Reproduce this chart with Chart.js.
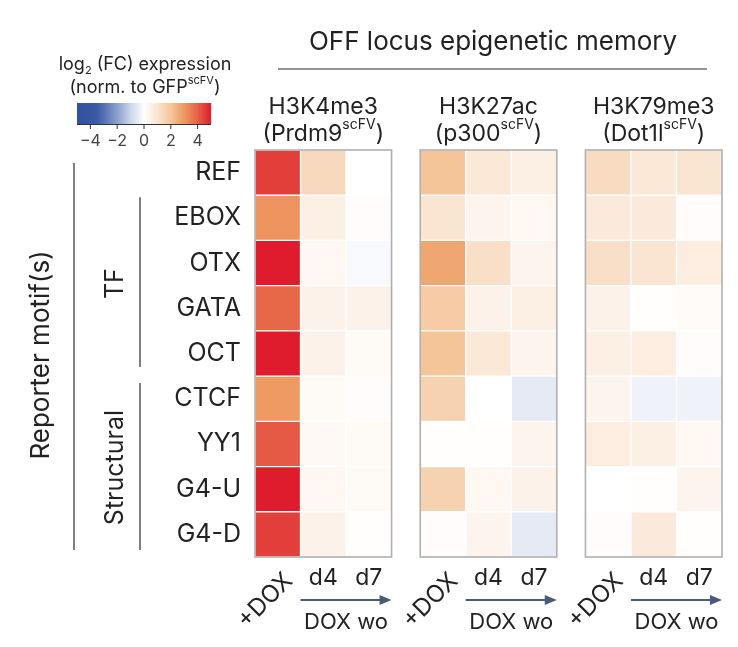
<!DOCTYPE html>
<html>
<head>
<meta charset="utf-8">
<script src="https://cdn.jsdelivr.net/npm/chart.js@4.4.1/dist/chart.umd.min.js"></script>
<style>
  html,body{margin:0;padding:0;background:#fff;}
  #wrap{position:relative;width:738px;height:647px;}
</style>
</head>
<body>
<div id="wrap"><canvas id="c"></canvas></div>
<script>
// ---------- data ----------
const rows = ['REF','EBOX','OTX','GATA','OCT','CTCF','YY1','G4-U','G4-D'];
const panelNames = ['H3K4me3','H3K27ac','H3K79me3'];
const panelEffectors = ['Prdm9','p300','Dot1l'];
const timepoints = ['+DOX','d4','d7'];
const colorbarTicks = [-4,-2,0,2,4];

// log2(FC) values, one array per panel / time point (rows order as above)
const h3k4me3_dox = [4.5, 3.1, 5.0, 3.9, 5.0, 2.95, 4.1, 5.0, 4.5];
const h3k4me3_d4  = [1.4, 0.6, 0.3, 0.5, 0.5, 0.2, 0.25, 0.3, 0.5];
const h3k4me3_d7  = [0.0, 0.1, -0.15, 0.5, 0.2, 0.1, 0.2, 0.2, 0.05];
const h3k27ac_dox = [2.0, 1.0, 2.7, 1.8, 2.0, 1.6, 0.05, 1.6, 0.1];
const h3k27ac_d4  = [0.9, 0.4, 1.2, 0.5, 0.9, 0.0, 0.05, 0.3, 0.4];
const h3k27ac_d7  = [0.6, 0.3, 0.4, 0.6, 0.4, -0.5, 0.4, 0.5, -0.5];
const h3k79me3_dox = [1.3, 0.8, 1.2, 0.5, 0.6, 0.4, 0.7, 0.0, 0.1];
const h3k79me3_d4  = [0.9, 0.8, 1.0, 0.05, 0.7, -0.3, 0.6, 0.05, 0.8];
const h3k79me3_d7  = [1.0, 0.1, 0.7, 0.15, 0.1, -0.3, 0.3, 0.4, 0.05];

const panelValues = [
  [h3k4me3_dox, h3k4me3_d4, h3k4me3_d7],
  [h3k27ac_dox, h3k27ac_d4, h3k27ac_d7],
  [h3k79me3_dox, h3k79me3_d4, h3k79me3_d7]
];

// ---------- colour map ----------
const cmapStops = [
  [-5,[49,80,160]],[-3.5,[60,90,165]],[-2,[140,160,205]],[-1,[202,213,233]],
  [0,[255,255,255]],[1,[250,229,210]],[2,[245,197,154]],[3,[238,152,95]],
  [4,[230,97,70]],[5,[222,28,46]]
];
function cmap(v){
  v = Math.max(-5, Math.min(5, v));
  for (let i=0;i<cmapStops.length-1;i++){
    const [a,ca]=cmapStops[i],[b,cb]=cmapStops[i+1];
    if (v>=a && v<=b){
      const t=(v-a)/(b-a);
      const c=ca.map((x,k)=>Math.round(x+(cb[k]-x)*t));
      return `rgb(${c[0]},${c[1]},${c[2]})`;
    }
  }
  return 'rgb(255,255,255)';
}

const GAP = 0.63;
const FONT = 'Inter, "Open Sans", sans-serif';
const TXT = '#222';

const datasets = [];
panelValues.forEach((cols,p)=>{
  cols.forEach((vals,c)=>{
    const start = p*(3+GAP)+c;
    datasets.push({
      label: panelNames[p]+' '+timepoints[c],
      data: rows.map(()=>[start,start+1]),
      backgroundColor: vals.map(cmap),
      borderColor: '#ffffff',
      borderWidth: 1,
      borderSkipped: false,
      grouped: false,
      barPercentage: 1,
      categoryPercentage: 1,
      values: vals
    });
  });
});

function drawSup(ctx, parts, cx, cy){
  let total=0;
  parts.forEach(pt=>{ctx.font=pt.size+'px '+FONT; pt.w=ctx.measureText(pt.t).width; total+=pt.w;});
  let x=cx-total/2;
  ctx.textAlign='left';
  parts.forEach(pt=>{ctx.font=pt.size+'px '+FONT; ctx.fillText(pt.t,x,cy+(pt.dy||0)); x+=pt.w;});
}

const decor = {
  id:'decor',
  afterDatasetsDraw(chart){
    const {ctx, chartArea:a, scales:{x}} = chart;
    ctx.save();
    ctx.strokeStyle='#b0b0b0'; ctx.lineWidth=1.6;
    for(let p=0;p<3;p++){
      const x0=x.getPixelForValue(p*(3+GAP)), x1=x.getPixelForValue(p*(3+GAP)+3);
      ctx.strokeRect(x0,a.top,x1-x0,a.bottom-a.top);
    }
    ctx.restore();
  },
  afterDraw(chart){
    const {ctx, chartArea:a, scales:{x,y}} = chart;
    ctx.save();
    ctx.fillStyle=TXT; ctx.textBaseline='middle';

    // main title + rule
    ctx.font='26px '+FONT; ctx.textAlign='center';
    ctx.fillText('OFF locus epigenetic memory', 493, 42);
    ctx.strokeStyle='#6e6e6e'; ctx.lineWidth=1.6;
    ctx.beginPath(); ctx.moveTo(278,69); ctx.lineTo(707,69); ctx.stroke();

    for(let p=0;p<3;p++){
      const cx=(x.getPixelForValue(p*(3+GAP))+x.getPixelForValue(p*(3+GAP)+3))/2;
      ctx.font='23px '+FONT; ctx.textAlign='center';
      ctx.fillText(panelNames[p], cx, 107);
      drawSup(ctx,[{t:'('+panelEffectors[p],size:23},{t:'scFV',size:14,dy:-9},{t:')',size:23}],cx,134);

      // bottom labels
      const c0=x.getPixelForValue(p*(3+GAP)+0.5);
      const c1=x.getPixelForValue(p*(3+GAP)+1.5);
      const c2=x.getPixelForValue(p*(3+GAP)+2.5);
      const xl=x.getPixelForValue(p*(3+GAP)+1), xr=x.getPixelForValue(p*(3+GAP)+3);
      ctx.save();
      ctx.translate(c0+11, a.bottom+20);
      ctx.rotate(-Math.PI/4);
      ctx.font='24px '+FONT; ctx.textAlign='right'; ctx.textBaseline='middle';
      ctx.fillText(timepoints[0],0,0);
      ctx.restore();
      ctx.font='23px '+FONT; ctx.textAlign='center';
      ctx.fillText(timepoints[1], c1, a.bottom+21);
      ctx.fillText(timepoints[2], c2, a.bottom+21);
      // arrow
      ctx.strokeStyle='#4b5a78'; ctx.fillStyle='#4b5a78'; ctx.lineWidth=2;
      ctx.beginPath(); ctx.moveTo(xl, a.bottom+43); ctx.lineTo(xr-6, a.bottom+43); ctx.stroke();
      ctx.beginPath(); ctx.moveTo(xr, a.bottom+43); ctx.lineTo(xr-12, a.bottom+38); ctx.lineTo(xr-12, a.bottom+48); ctx.closePath(); ctx.fill();
      ctx.fillStyle=TXT;
      ctx.font='22px '+FONT; ctx.textAlign='center';
      ctx.fillText('DOX wo', (xl+xr)/2, a.bottom+65);
    }

    // group brackets
    const half=(y.getPixelForValue(1)-y.getPixelForValue(0))/2;
    const rowTop=i=>y.getPixelForValue(i)-half;
    const rowBot=i=>y.getPixelForValue(i)+half;
    ctx.strokeStyle='#555'; ctx.lineWidth=1.5;
    ctx.beginPath(); ctx.moveTo(74,rowTop(0)+13); ctx.lineTo(74,rowBot(8)-7); ctx.stroke();
    ctx.beginPath(); ctx.moveTo(140,rowTop(1)+2); ctx.lineTo(140,rowBot(4)-9); ctx.stroke();
    ctx.beginPath(); ctx.moveTo(140,rowTop(5)+7); ctx.lineTo(140,rowBot(8)-7); ctx.stroke();

    ctx.fillStyle=TXT; ctx.textAlign='center'; ctx.textBaseline='middle';
    const vtext=(t,cx,cy,size)=>{ctx.save();ctx.translate(cx,cy);ctx.rotate(-Math.PI/2);ctx.font=size+'px '+FONT;ctx.fillText(t,0,0);ctx.restore();};
    vtext('TF',115,(rowTop(1)+rowBot(4))/2-2,25);
    vtext('Structural',115,(rowTop(5)+rowBot(8))/2+1,25);
    vtext('Reporter motif(s)',41,355,26);

    // colour bar
    const cbL=77, cbR=211, cbT=103, cbB=124;
    for(let i=0;i<cbR-cbL;i++){
      const v=-5+10*(i+0.5)/(cbR-cbL);
      ctx.fillStyle=cmap(v); ctx.fillRect(cbL+i,cbT,1.2,cbB-cbT);
    }
    ctx.strokeStyle='#333'; ctx.lineWidth=1;
    ctx.beginPath(); ctx.moveTo(cbL,cbB+0.5); ctx.lineTo(cbR,cbB+0.5); ctx.stroke();
    ctx.fillStyle='#444'; ctx.font='16px '+FONT; ctx.textAlign='center';
    colorbarTicks.forEach(t=>{
      const px=cbL+(t+5)/10*(cbR-cbL);
      ctx.beginPath(); ctx.moveTo(px,cbB); ctx.lineTo(px,cbB+5); ctx.stroke();
      ctx.fillText(t<0?'\u2212'+Math.abs(t):String(t),px,141);
    });
    ctx.fillStyle=TXT;
    drawSup(ctx,[{t:'log',size:18},{t:'2',size:11,dy:6},{t:' (FC) expression',size:18}],145,65);
    drawSup(ctx,[{t:'(norm. to GFP',size:18},{t:'scFV',size:11,dy:-7},{t:')',size:18}],145,88);
    ctx.restore();
  }
};

new Chart(document.getElementById('c'),{
  type:'bar',
  data:{labels:rows,datasets},
  options:{
    indexAxis:'y',
    responsive:true, maintainAspectRatio:false, animation:false,
    layout:{padding:{left:10,right:16,top:150,bottom:90}},
    plugins:{legend:{display:false},
      tooltip:{callbacks:{label:(c)=>c.dataset.label+': '+c.dataset.values[c.dataIndex]}}},
    scales:{
      x:{type:'linear',min:0,max:9+2*GAP,display:false},
      y:{type:'category',offset:true,
        grid:{display:false,drawTicks:false},border:{display:false},
        ticks:{color:TXT,font:{family:FONT,size:25},padding:14},
        afterFit(s){s.width=245;}}
    }
  },
  plugins:[decor]
});
</script>
</body>
</html>
